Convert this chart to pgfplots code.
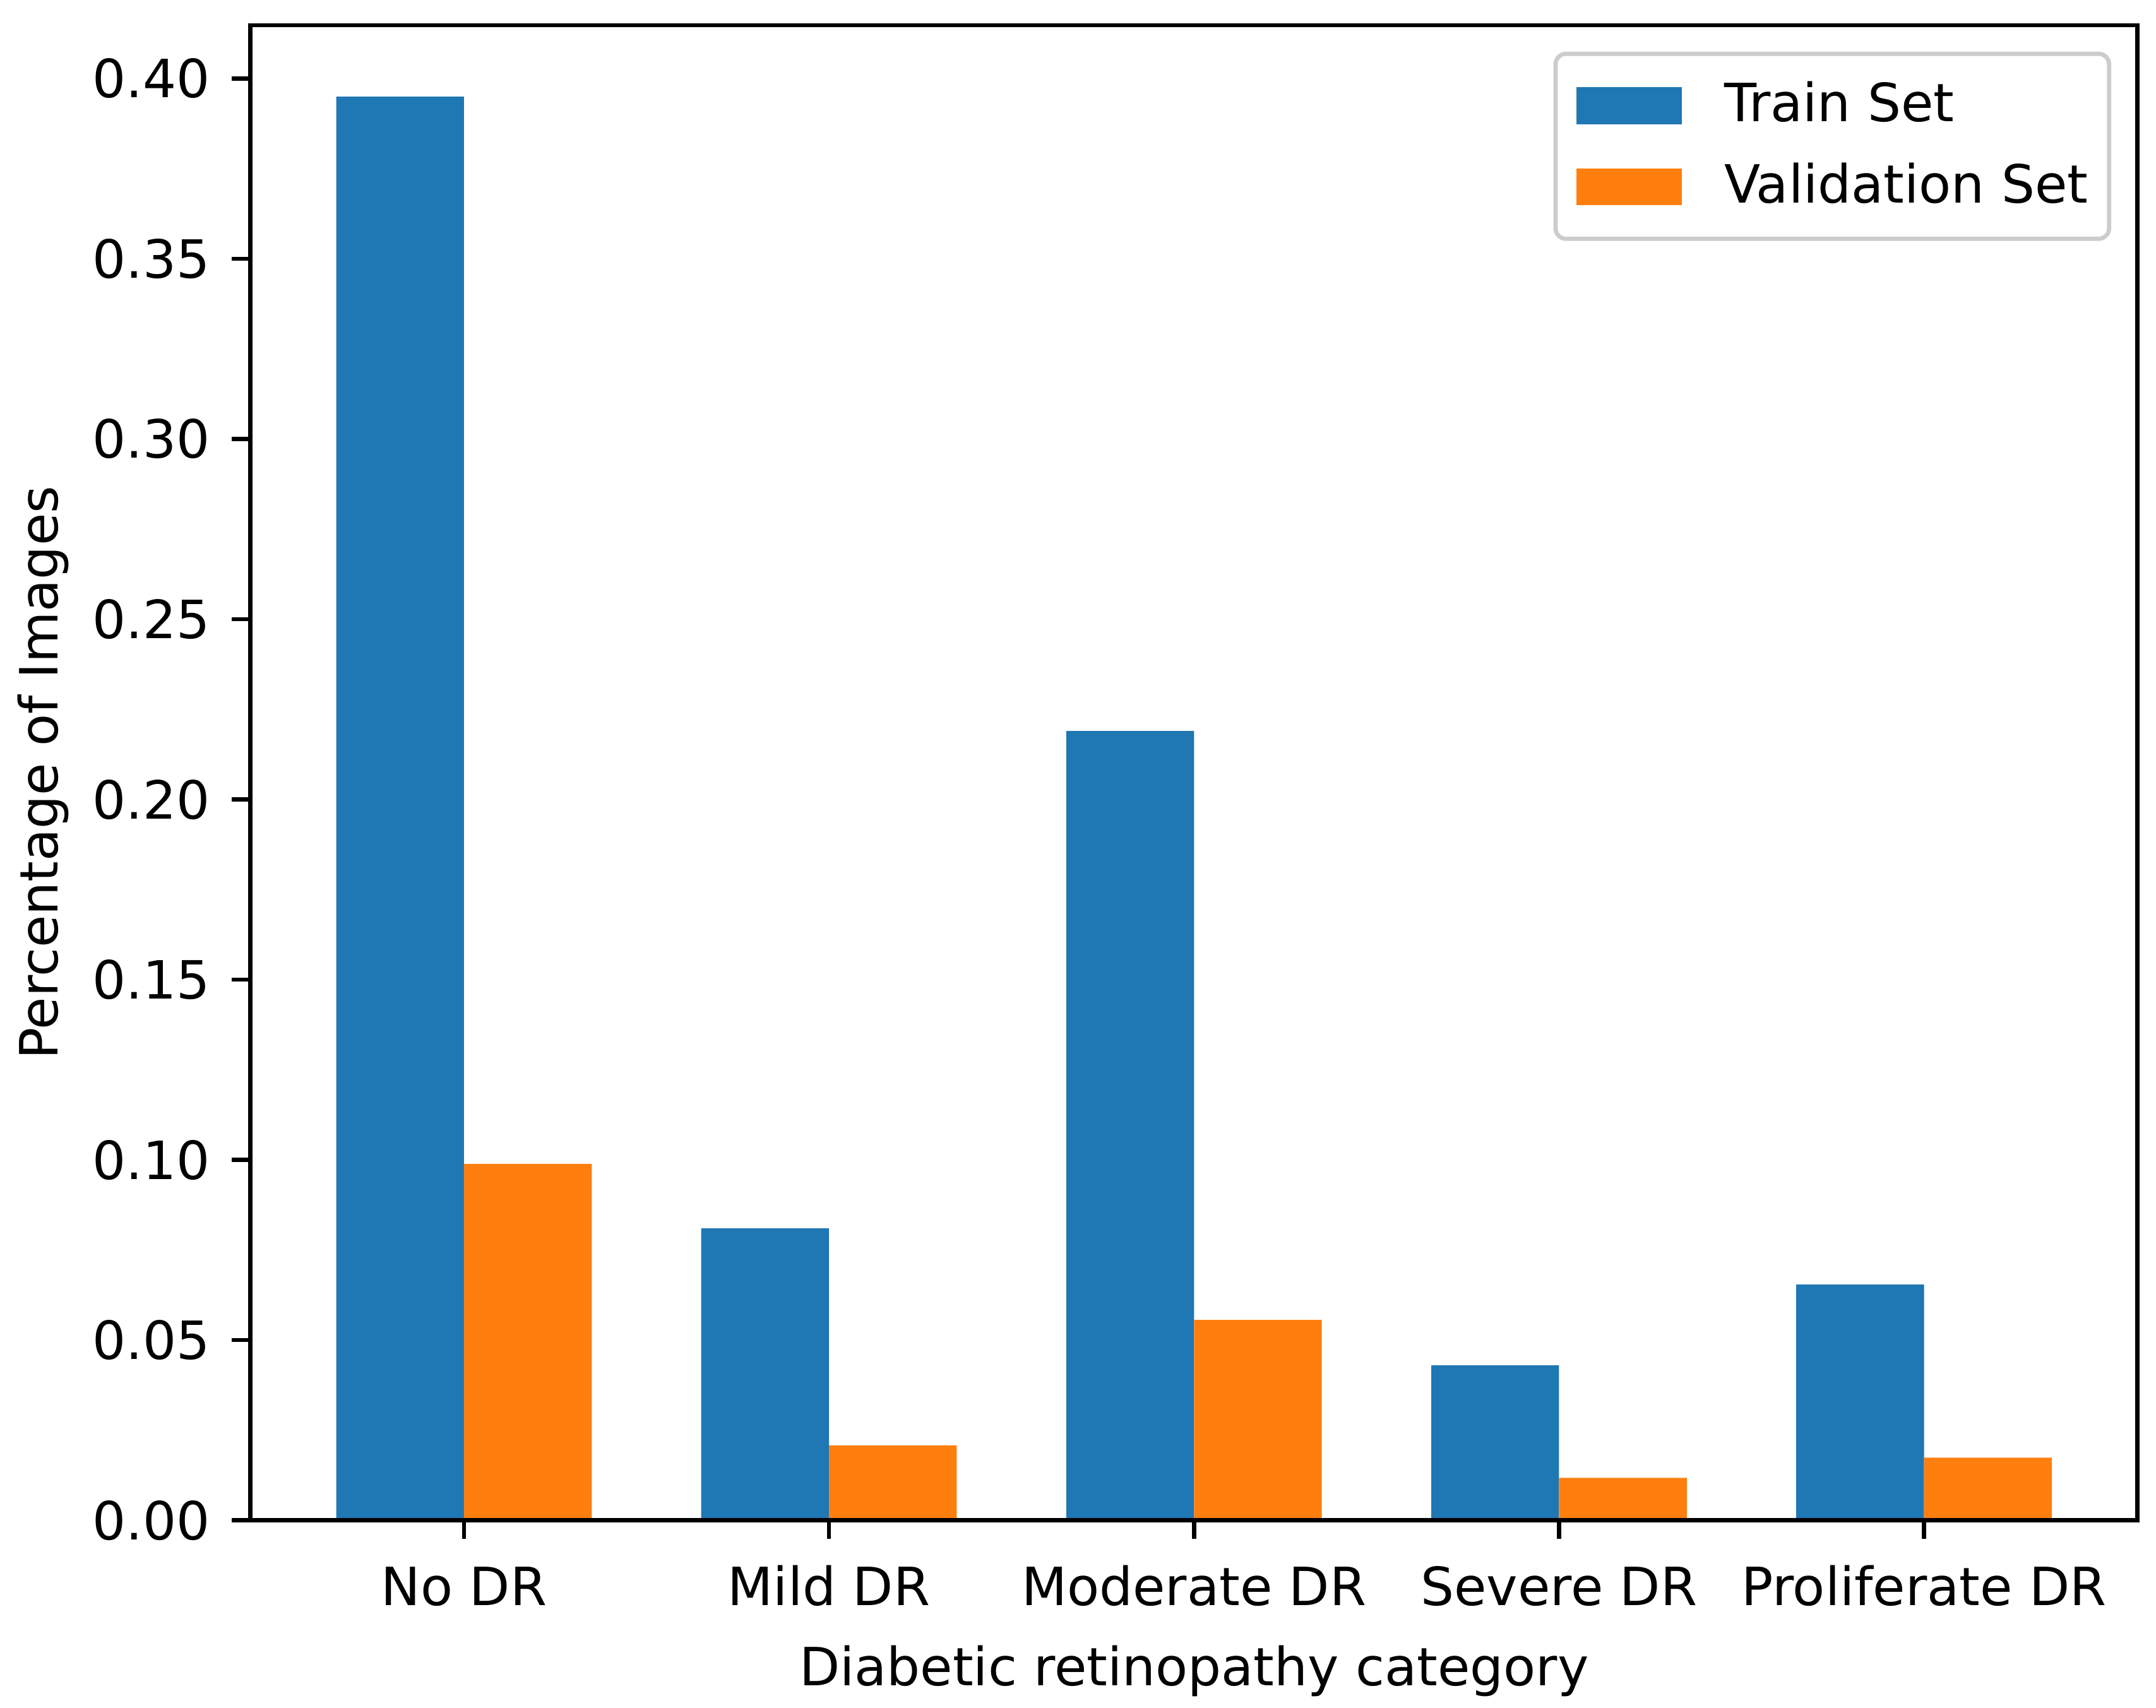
\documentclass[border=0pt]{standalone}
\usepackage{fontspec}
\setmainfont{DejaVu Sans}
\usepackage{pgfplots}
\pgfplotsset{compat=1.18}
\definecolor{mplblue}{HTML}{1F77B4}
\definecolor{mplorange}{HTML}{FF7F0E}
\begin{document}
\begin{tikzpicture}
\path[use as bounding box] (-47.5pt,-35.6pt) rectangle (361.4pt,288.4pt);
\begin{axis}[
  at={(0,0)}, anchor=south west,
  scale only axis,
  width=357.9pt, height=283.6pt,
  xmin=-0.585, xmax=4.585,
  ymin=0, ymax=0.4148,
  axis on top,
  axis line style={line width=0.8pt, black},
  tick align=outside,
  tick pos=left,
  major tick length=3.5pt,
  tick style={line width=0.8pt, black},
  xtick={0,1,2,3,4},
  xticklabels={No DR, Mild DR, Moderate DR, Severe DR, Proliferate DR},
  ytick={0,0.05,0.10,0.15,0.20,0.25,0.30,0.35,0.40},
  scaled y ticks=false,
  /pgf/number format/assume math mode=true,
  yticklabel style={/pgf/number format/fixed, /pgf/number format/fixed zerofill, /pgf/number format/precision=2, anchor=east, inner sep=0pt, xshift=-4pt},
  xticklabel style={anchor=base, inner sep=0pt, yshift=-12.7pt},
  every axis x label/.style={at={([yshift=-31.4pt]axis description cs:0.5,0)}, anchor=base},
  every axis y label/.style={at={([xshift=-36.5pt]axis description cs:0,0.5)}, rotate=90, anchor=base},
  xlabel={Diabetic retinopathy category},
  ylabel={Percentage of Images},
  legend style={at={([xshift=-5pt,yshift=-5pt]axis description cs:1,1)}, anchor=north east,
    draw=black!20, line width=0.8pt, rounded corners=2pt, fill=white, fill opacity=0.8, text opacity=1,
    inner xsep=4pt, inner ysep=2.15pt, row sep=0pt, column sep=0pt,
    nodes={inner sep=0pt, minimum height=15.4pt},
    /tikz/every odd column/.append style={column sep=8pt}},
  legend cell align=left,
  mylegend/.style={legend image code/.code={\fill[##1, fill opacity=1, sharp corners] (0pt,-3.5pt) rectangle (20pt,3.5pt);}},
]
\addplot[ybar, bar width=0.35, bar shift=-0.175, fill=mplblue, draw=none, mylegend]
  coordinates {(0,0.395) (1,0.0810) (2,0.219) (3,0.0430) (4,0.0654)};
\addlegendentry{Train Set}
\addplot[ybar, bar width=0.35, bar shift=0.175, fill=mplorange, draw=none, mylegend]
  coordinates {(0,0.0989) (1,0.0208) (2,0.0556) (3,0.0118) (4,0.0174)};
\addlegendentry{Validation Set}
\end{axis}
\end{tikzpicture}
\end{document}
